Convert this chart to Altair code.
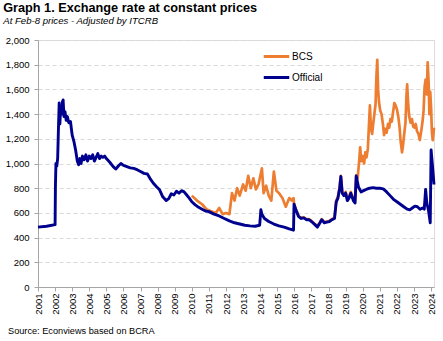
import altair as alt
import pandas as pd

# ---------------- data ----------------
official_t = [
    2001.0, 2001.5, 2002.0, 2002.02, 2002.05, 2002.1, 2002.15, 2002.2, 2002.24, 2002.28,
    2002.33, 2002.38, 2002.43, 2002.47, 2002.52, 2002.58, 2002.65, 2002.72, 2002.8, 2002.9,
    2003.0, 2003.1, 2003.2, 2003.3, 2003.38, 2003.45, 2003.52, 2003.6, 2003.7, 2003.8,
    2003.9, 2004.0, 2004.1, 2004.2, 2004.3, 2004.4, 2004.5, 2004.6, 2004.7, 2004.8,
    2004.9, 2005.0, 2005.2, 2005.4, 2005.55, 2005.7, 2005.85, 2006.0, 2006.2, 2006.4,
    2006.6, 2006.8, 2007.0, 2007.2, 2007.4, 2007.55, 2007.75, 2007.95, 2008.1, 2008.3,
    2008.5, 2008.65, 2008.8, 2008.95, 2009.1, 2009.25, 2009.4, 2009.55, 2009.7, 2009.85,
    2010.0, 2010.2, 2010.4, 2010.6, 2010.8, 2011.0, 2011.3, 2011.6, 2011.9, 2012.2,
    2012.5, 2012.8, 2013.1, 2013.4, 2013.7, 2013.97, 2014.04, 2014.1, 2014.25, 2014.5,
    2014.8, 2015.1, 2015.4, 2015.7, 2015.95, 2015.98, 2016.1, 2016.25, 2016.4, 2016.55,
    2016.7, 2016.85, 2017.0, 2017.2, 2017.35, 2017.5, 2017.6, 2017.75, 2017.9, 2018.05,
    2018.2, 2018.35, 2018.45, 2018.55, 2018.65, 2018.72, 2018.8, 2018.9, 2019.0, 2019.1,
    2019.2, 2019.3, 2019.45, 2019.55, 2019.62, 2019.75, 2019.9, 2020.05, 2020.2, 2020.4,
    2020.6, 2020.8, 2021.0, 2021.2, 2021.4, 2021.6, 2021.8, 2022.0, 2022.2, 2022.4,
    2022.6, 2022.75, 2022.9, 2023.05, 2023.2, 2023.35, 2023.5, 2023.6, 2023.68, 2023.75,
    2023.85, 2023.95, 2024.0, 2024.1, 2024.17,
]
official_v = [
    485, 492, 505, 820, 1000, 980, 1040, 1300, 1490, 1320,
    1460, 1400, 1500, 1515, 1380, 1420, 1350, 1380, 1330, 1340,
    1230, 1180, 1110, 1020, 990, 1040, 1000, 1060, 1030, 1070,
    1020, 1060, 1040, 1070, 1020, 1050, 1080, 1040, 1060, 1050,
    1060, 1040, 1010, 975, 955, 980, 1000, 985, 975, 965,
    960, 950, 935, 920, 915, 880, 840, 810, 790, 730,
    700, 715, 755, 745, 775, 760, 780, 770, 745, 720,
    690, 665, 645, 630, 615, 610, 590, 575, 555, 535,
    520, 510, 500, 495, 492, 500, 625, 590, 555, 530,
    510, 495, 485, 470, 460, 670, 620, 570, 555, 560,
    545, 545, 530, 505, 485, 520, 545, 520, 525, 530,
    545, 555, 690, 720, 800, 895, 760, 740, 760, 700,
    720, 760, 700, 680, 900, 810, 770, 780, 790, 800,
    805, 800, 800, 795, 770, 740, 710, 690, 670, 650,
    630, 625, 640, 655, 650, 630, 640, 630, 790, 680,
    620, 520, 1110, 950, 830,
]

bcs_t = [
    2010.0, 2010.3, 2010.6, 2010.85, 2011.1, 2011.4, 2011.6, 2011.8, 2012.0, 2012.2,
    2012.35, 2012.5, 2012.65, 2012.8, 2013.0, 2013.15, 2013.3, 2013.45, 2013.6, 2013.75,
    2013.9, 2014.1, 2014.2, 2014.35, 2014.5, 2014.65, 2014.8, 2014.95, 2015.1, 2015.3,
    2015.5, 2015.7, 2015.85, 2015.95, 2015.98, 2016.1, 2016.25, 2016.4, 2016.55, 2016.7,
    2016.85, 2017.0, 2017.2, 2017.35, 2017.5, 2017.6, 2017.75, 2017.9, 2018.05, 2018.2,
    2018.35, 2018.45, 2018.55, 2018.65, 2018.72, 2018.8, 2018.9, 2019.0, 2019.1, 2019.2,
    2019.3, 2019.45, 2019.55, 2019.62, 2019.7, 2019.78, 2019.85, 2019.92, 2020.0, 2020.08,
    2020.15, 2020.22, 2020.3, 2020.36, 2020.42, 2020.48, 2020.55, 2020.62, 2020.68, 2020.75,
    2020.8, 2020.85, 2020.9, 2020.95, 2021.02, 2021.1, 2021.18, 2021.25, 2021.32, 2021.4,
    2021.48, 2021.55, 2021.62, 2021.7, 2021.78, 2021.85, 2021.92, 2022.0, 2022.08, 2022.15,
    2022.22, 2022.3, 2022.36, 2022.42, 2022.5, 2022.56, 2022.6, 2022.66, 2022.72, 2022.8,
    2022.88, 2022.95, 2023.02, 2023.1, 2023.18, 2023.26, 2023.34, 2023.42, 2023.5, 2023.56,
    2023.62, 2023.68, 2023.75, 2023.8, 2023.86, 2023.9, 2023.95, 2024.0, 2024.05, 2024.1,
    2024.17,
]
bcs_v = [
    740, 700, 670, 630, 615, 600, 640, 590, 600, 590,
    760, 700, 800, 740, 830, 780, 900, 800, 880, 790,
    830, 960, 760, 820, 740, 700, 935, 780, 760, 720,
    650, 720, 700, 720, 680, 625, 575, 560, 565, 550,
    550, 535, 510, 495, 525, 550, 525, 530, 535, 550,
    560, 700, 730, 810, 900, 770, 750, 770, 715, 735,
    770, 715, 690, 905, 880, 1000, 1130, 1020, 1060, 1000,
    1090, 1050, 1120, 1300, 1470, 1280, 1240, 1330, 1400, 1480,
    1700, 1840, 1600, 1500, 1430, 1400, 1320, 1230, 1280, 1250,
    1320, 1290, 1360, 1340, 1420, 1490, 1470, 1440, 1380, 1300,
    1180, 1090, 1150, 1230, 1330, 1550, 1640, 1480, 1380, 1330,
    1360, 1300, 1290, 1320, 1260, 1240, 1190, 1260, 1340, 1430,
    1620, 1680, 1560, 1820, 1640, 1400, 1580, 1450, 1250, 1190,
    1290,
]

series_names = ["BCS", "Official"]
series_colors = ["#ED7D31", "#00008F"]
year_ticks = list(range(2001, 2025))
value_ticks = list(range(0, 2001, 200))

title_text = "Graph 1. Exchange rate at constant prices"
subtitle_text = "At Feb-8 prices - Adjusted by ITCRB"
source_text = "Source: Econviews based on BCRA"

# ---------------- tables ----------------
df_off = pd.DataFrame({"t": official_t, "v": official_v, "series": "Official"})
df_bcs = pd.DataFrame({"t": bcs_t, "v": bcs_v, "series": "BCS"})
df_src = pd.DataFrame({"label": [source_text]})

FONT = "Liberation Sans"

x_enc = alt.X(
    "t:Q",
    scale=alt.Scale(domain=[2001, 2024.17], nice=False, zero=False),
    axis=alt.Axis(
        values=year_ticks, format="d", labelAngle=270, labelAlign="right",
        labelBaseline="middle", labelFontSize=9.5, labelFont=FONT, labelColor="#000000",
        labelPadding=2, tickSize=4, tickColor="#A6A6A6", domainColor="#A6A6A6",
        grid=False, title=None, labelOverlap=False, labelFlush=False,
    ),
)
y_enc = alt.Y(
    "v:Q",
    scale=alt.Scale(domain=[0, 2000], nice=False),
    axis=alt.Axis(
        values=value_ticks, format=",.0f", labelFontSize=9.5, labelFont=FONT,
        labelColor="#000000", labelPadding=5, tickSize=4, tickColor="#A6A6A6",
        domainColor="#A6A6A6", grid=True, gridColor="#D9D9D9", gridDash=[4, 3],
        gridWidth=1, title=None,
    ),
)
color_enc = alt.Color(
    "series:N",
    scale=alt.Scale(domain=series_names, range=series_colors),
    legend=alt.Legend(
        orient="none", legendX=224, legendY=2, title=None, symbolType="stroke",
        symbolSize=650, symbolStrokeWidth=3, labelFontSize=10, labelFont=FONT,
        labelColor="#000000", rowPadding=-4, labelOffset=1, padding=0,
    ),
)

bcs_line = alt.Chart(df_bcs).mark_line(strokeWidth=2.7, strokeJoin="round").encode(
    x=x_enc, y=y_enc, color=color_enc
)
off_line = alt.Chart(df_off).mark_line(strokeWidth=2.9, strokeJoin="round").encode(
    x=x_enc, y=y_enc, color=color_enc
)
source = alt.Chart(df_src).mark_text(
    align="left", baseline="middle", fontSize=9.2, font=FONT, color="#000000"
).encode(x=alt.value(-30), y=alt.value(291), text="label:N")

chart = alt.layer(bcs_line, off_line, source).properties(
    width=396,
    height=247,
    autosize=alt.AutoSizeParams(type="none"),
    padding={"left": 38, "top": 40, "right": 9, "bottom": 54},
    title=alt.TitleParams(
        text=title_text, subtitle=subtitle_text, anchor="start", dx=-2, offset=9,
        font=FONT, fontSize=12.7, fontWeight="bold", color="#000000",
        subtitleFont=FONT, subtitleFontSize=9.6, subtitleFontStyle="italic",
        subtitleColor="#000000", subtitlePadding=2,
    ),
).configure_view(stroke=None).configure(background="white")

chart.save("out.html", embed_options={"renderer": "svg", "actions": False})
